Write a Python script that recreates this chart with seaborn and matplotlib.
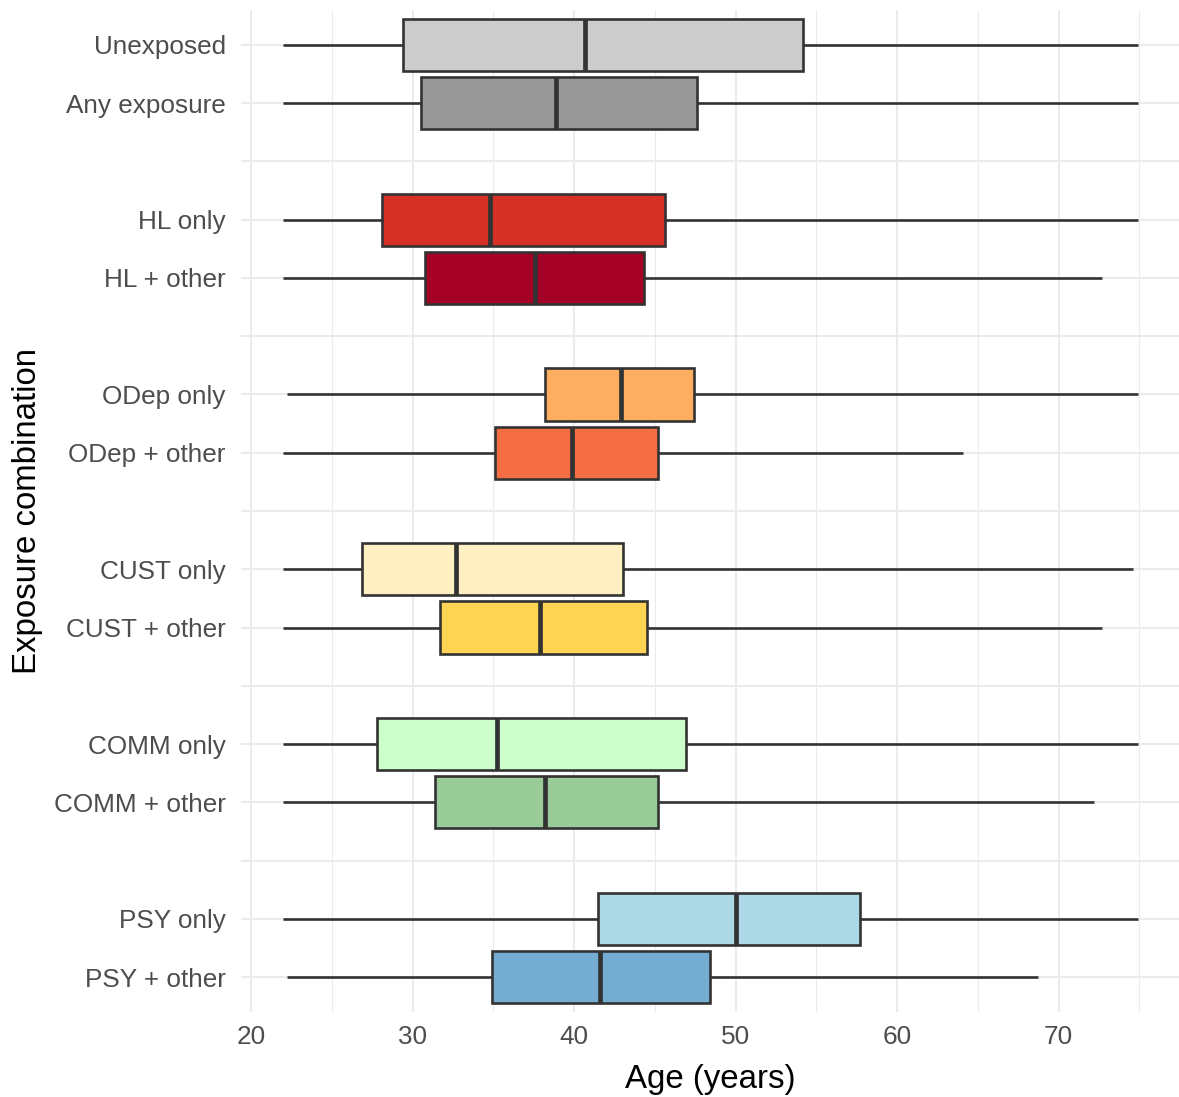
import numpy as np
import pandas as pd
import matplotlib
matplotlib.use("Agg")
import matplotlib.pyplot as plt
from matplotlib.ticker import MultipleLocator
import seaborn as sns

# Category order (top to bottom); "sp" entries are spacer rows
row_order = ["Unexposed", "Any exposure", "sp1",
             "HL only", "HL + other", "sp2",
             "ODep only", "ODep + other", "sp3",
             "CUST only", "CUST + other", "sp4",
             "COMM only", "COMM + other", "sp5",
             "PSY only", "PSY + other"]
categories = [c for c in row_order if not c.startswith("sp")]

# Five-number summaries (years)
whisker_low = [22.0, 22.0, 22.0, 22.0, 22.2, 22.0, 22.0, 22.0, 22.0, 22.0, 22.0, 22.2]
q1 = [29.4, 30.5, 28.1, 30.8, 38.2, 35.1, 26.9, 31.7, 27.8, 31.4, 41.5, 34.9]
median = [40.7, 38.9, 34.8, 37.6, 42.9, 39.9, 32.7, 37.9, 35.2, 38.2, 50.0, 41.6]
q3 = [54.2, 47.6, 45.6, 44.3, 47.4, 45.2, 43.0, 44.5, 46.9, 45.2, 57.7, 48.4]
whisker_high = [74.9, 74.9, 74.9, 72.7, 74.9, 64.1, 74.6, 72.7, 74.9, 72.2, 74.9, 68.7]

colors = ["#CCCCCC", "#999999", "#D73027", "#A50026", "#FDAE61", "#F46D43",
          "#FFF0C4", "#FED452", "#CCFFCC", "#99CC99", "#ADD8E6", "#74ADD1"]

rows = []
for i, c in enumerate(categories):
    for v in (whisker_low[i], q1[i], median[i], q3[i], whisker_high[i]):
        rows.append({"group": c, "age": v})
df = pd.DataFrame(rows)

sns.set_theme(style="whitegrid")
plt.rcParams["font.family"] = ["Liberation Sans", "DejaVu Sans"]

fig = plt.figure(figsize=(11.79, 10.97), dpi=100)
ax = fig.add_axes([241 / 1179, 1 - 1012 / 1097, 1 - 241 / 1179, (1012 - 10) / 1097])

sns.boxplot(data=df, x="age", y="group", hue="group", order=row_order,
            hue_order=categories, palette=dict(zip(categories, colors)),
            saturation=1, orient="h", width=0.9, whis=(0, 100), dodge=False,
            legend=False, linecolor="#333333", linewidth=1.9, showcaps=False,
            medianprops={"linewidth": 3.4, "color": "#333333"},
            ax=ax, zorder=3)

ax.set_xlim(19.38, 77.45)
ax.set_ylim(16.6, -0.6)
ax.set_xticks([20, 30, 40, 50, 60, 70])
ax.xaxis.set_minor_locator(MultipleLocator(5))
ax.set_yticks(range(len(row_order)))
ax.set_yticklabels(["" if c.startswith("sp") else c for c in row_order])

ax.set_facecolor("white")
for s in ax.spines.values():
    s.set_visible(False)
ax.grid(which="major", color="#EBEBEB", linewidth=1.5, zorder=0)
ax.grid(which="minor", axis="x", color="#EBEBEB", linewidth=0.8, zorder=0)
ax.set_axisbelow(True)
ax.tick_params(axis="both", which="both", length=0, labelsize=18.8, labelcolor="#4D4D4D")
ax.tick_params(axis="y", pad=11)
ax.tick_params(axis="x", pad=9)

ax.set_xlabel("Age (years)", fontsize=23.8, color="black", labelpad=11)
ax.set_ylabel("Exposure combination", fontsize=23.8, color="black", labelpad=8)

fig.savefig("out.png", dpi=100, facecolor="white")
